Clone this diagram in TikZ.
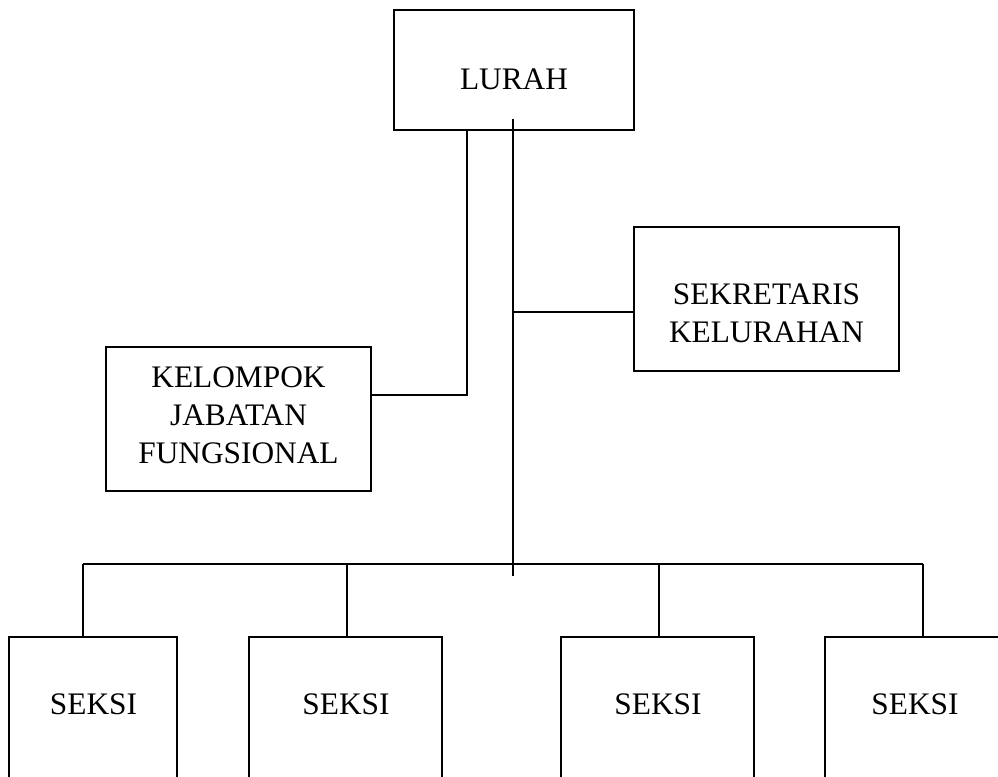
\documentclass[tikz,border=0pt]{standalone}
\usepackage{fontspec}
\setmainfont{Liberation Serif}
\usetikzlibrary{fit}
\begin{document}
\begin{tikzpicture}[x=0.75pt,y=-0.75pt,
  box/.style={draw,line width=1.4pt,inner sep=0pt,outer sep=0pt},
  lbl/.style={anchor=base,inner sep=0pt,align=center,font=\fontsize{23.5}{28.5}\selectfont},
  conn/.style={line width=1.4pt}]
\useasboundingbox (0,0) rectangle (998,776);
\clip (0,0) rectangle (998,776);
\fill[white] (0,0) rectangle (998,776);
% boxes
\node[box,fit={(394,10) (634,130)}] (lurah) {};
\node[box,fit={(634,227) (899,371)}] (sek) {};
\node[box,fit={(106,347) (371,491)}] (kel) {};
\node[box,fit={(9,637) (177,860)}] (s1) {};
\node[box,fit={(249,637) (442,860)}] (s2) {};
\node[box,fit={(561,637) (754,860)}] (s3) {};
\node[box,fit={(825,637) (1010,860)}] (s4) {};
% texts
\node[lbl] (tlurah) at (514,89) {LURAH};
\node[lbl] (tsek) at (766.5,342) {SEKRETARIS\\KELURAHAN};
\node[lbl] (tkel) at (238.5,463) {KELOMPOK\\JABATAN\\FUNGSIONAL};
\node[lbl] (ts1) at (93.5,714) {SEKSI};
\node[lbl] (ts2) at (346,714) {SEKSI};
\node[lbl] (ts3) at (658,714) {SEKSI};
\node[lbl] (ts4) at (915,714) {SEKSI};
% connectors
\coordinate (m0) at (513,119);
\coordinate (m1) at (513,576);
\draw[conn] (m0) -- (m1);
\coordinate (k0) at (467,130);
\coordinate (k1) at (371,395);
\draw[conn] (k0) |- (k1);
\coordinate (j0) at (513,312);
\coordinate (j1) at (634,312);
\draw[conn] (j0) -- (j1);
\coordinate (b1) at (83,564);
\coordinate (b2) at (347,564);
\coordinate (b3) at (659,564);
\coordinate (b4) at (923,564);
\draw[conn] (b1) -- (b4);
\draw[conn] (b1) -- (b1 |- s1.north);
\draw[conn] (b2) -- (b2 |- s2.north);
\draw[conn] (b3) -- (b3 |- s3.north);
\draw[conn] (b4) -- (b4 |- s4.north);
\end{tikzpicture}
\end{document}
